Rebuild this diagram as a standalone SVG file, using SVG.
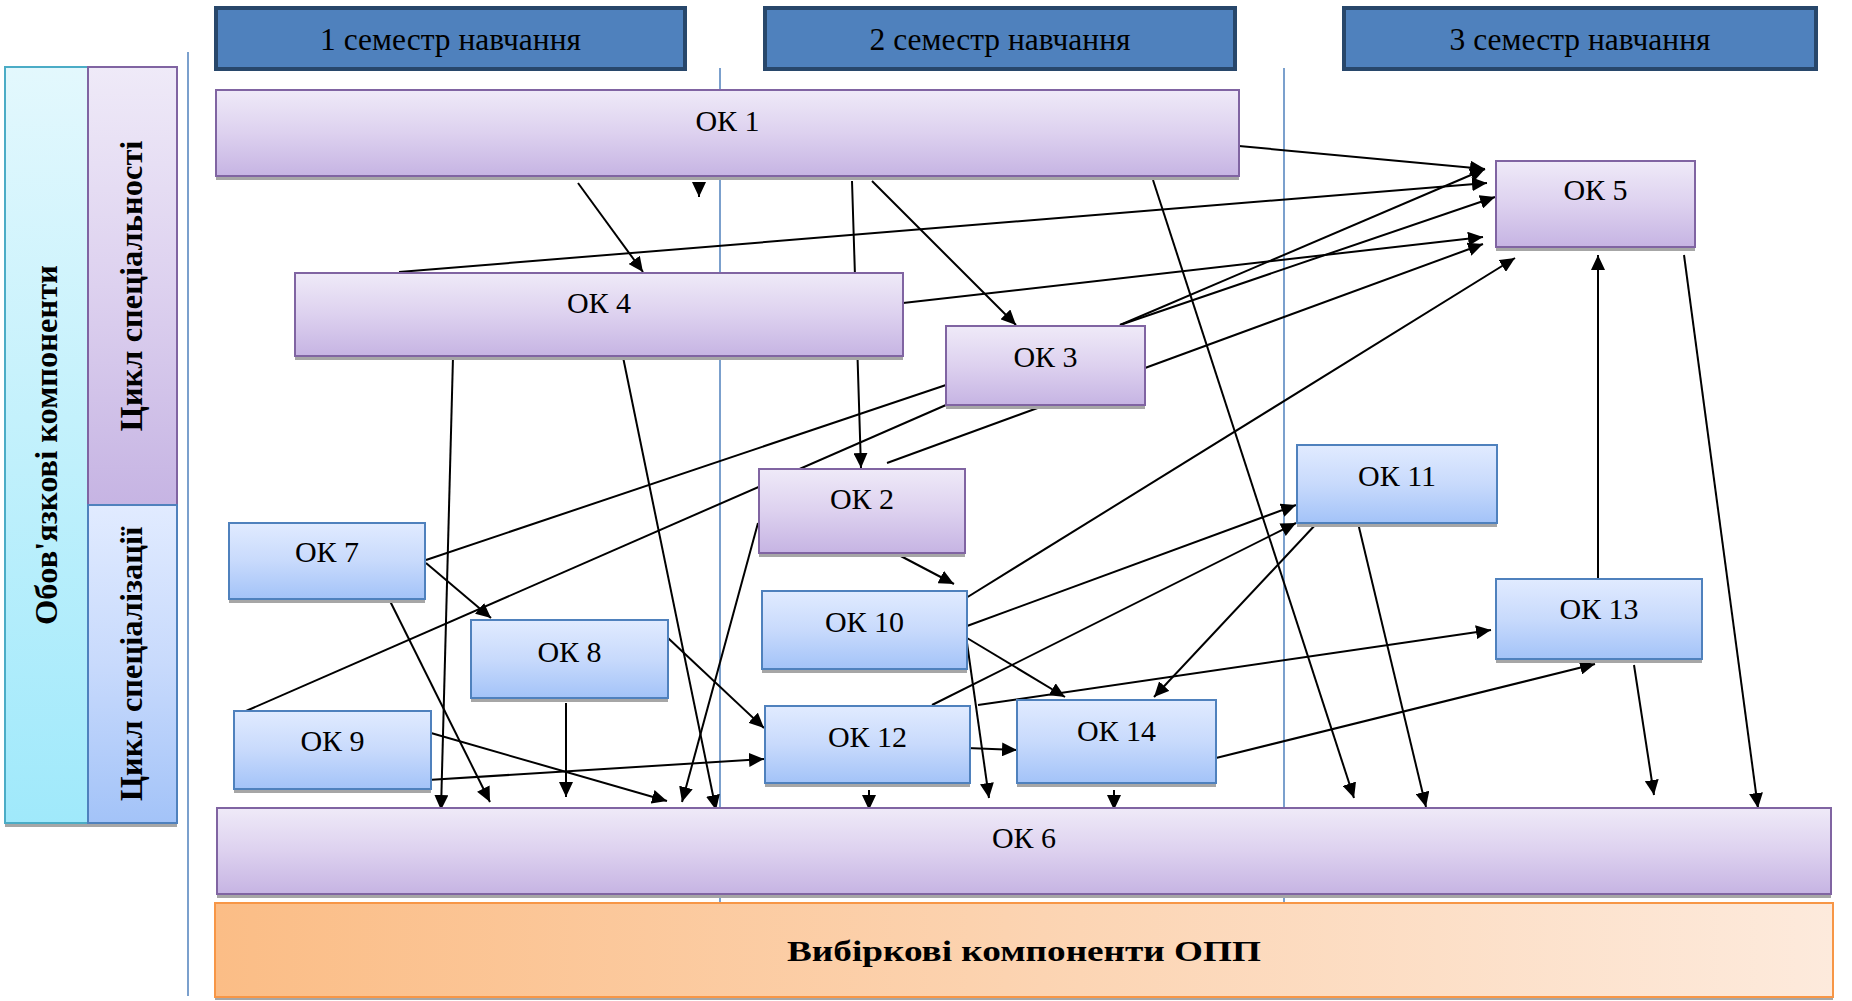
<svg xmlns="http://www.w3.org/2000/svg" width="1852" height="1001" viewBox="0 0 1852 1001">
<defs>
<linearGradient id="gp" x1="0" y1="0" x2="0" y2="1"><stop offset="0" stop-color="#EFEAF8"/><stop offset="0.5" stop-color="#DDD1EF"/><stop offset="1" stop-color="#C6B4E3"/></linearGradient>
<linearGradient id="gb" x1="0" y1="0" x2="0" y2="1"><stop offset="0" stop-color="#E1EBFF"/><stop offset="0.5" stop-color="#C8DAFC"/><stop offset="1" stop-color="#A3C3F8"/></linearGradient>
<linearGradient id="gc" x1="0" y1="0" x2="0" y2="1"><stop offset="0" stop-color="#E3F8FD"/><stop offset="1" stop-color="#A0E9FB"/></linearGradient>
<linearGradient id="go" x1="0" y1="0" x2="1" y2="0"><stop offset="0" stop-color="#FBBD86"/><stop offset="1" stop-color="#FDEADC"/></linearGradient>
<marker id="ah" markerUnits="userSpaceOnUse" markerWidth="16" markerHeight="14" refX="15" refY="7" orient="auto"><path d="M0,0 L15,7 L0,14 z" fill="#000"/></marker>
</defs>
<style>
.sem{fill:#4F81BD;stroke:#28476B;stroke-width:4}
.p{fill:url(#gp);stroke:#8064A2;stroke-width:2}
.b{fill:url(#gb);stroke:#4F81BD;stroke-width:2}
.sh{fill:#A6A6A6}
.t{font-family:"Liberation Serif","Times New Roman",serif;font-size:30px;text-anchor:middle;fill:#000}
.ts{font-size:31.5px}
.tb{font-weight:bold;font-size:32.5px}
.guide line{stroke:#4F81BD;stroke-width:1.5}
.conn line{stroke:#000;stroke-width:2}
.conn .a{marker-end:url(#ah)}
</style>
<rect width="1852" height="1001" fill="#fff"/>
<g class="guide">
<line x1="188" y1="52" x2="188" y2="996"/>
<line x1="720" y1="68" x2="720" y2="903"/>
<line x1="1284" y1="68" x2="1284" y2="903"/>
</g>
<g id="semesters">
<g id="sem1"><rect class="sem" x="216" y="8" width="469" height="61"/><text class="t ts" x="450.5" y="50">1 семестр навчання</text></g>
<g id="sem2"><rect class="sem" x="765" y="8" width="470" height="61"/><text class="t ts" x="1000" y="50">2 семестр навчання</text></g>
<g id="sem3"><rect class="sem" x="1344" y="8" width="472" height="61"/><text class="t ts" x="1580" y="50">3 семестр навчання</text></g>
</g>
<g id="left-labels">
<g id="mandatory"><rect class="sh" x="5" y="71" width="83" height="756"/><rect x="5" y="67" width="83" height="756" fill="url(#gc)" stroke="#4BACC6" stroke-width="2"/><text class="t tb" transform="translate(57,445) rotate(-90)">Обов'язкові компоненти</text></g>
<g id="cycle-spec"><rect x="88" y="67" width="89" height="438" fill="url(#gp)" stroke="#8064A2" stroke-width="2"/><text class="t tb" transform="translate(142,286) rotate(-90)">Цикл спеціальності</text></g>
<g id="cycle-specialization"><rect class="sh" x="88" y="509" width="89" height="318"/><rect x="88" y="505" width="89" height="318" fill="url(#gb)" stroke="#4F81BD" stroke-width="2"/><text class="t tb" transform="translate(142,664) rotate(-90)">Цикл спеціалізації</text></g>
</g>
<g class="conn">
<line class="a" x1="1239" y1="146" x2="1485" y2="169"/>
<line class="a" x1="399" y1="272" x2="1487" y2="183"/>
<line class="a" x1="1120" y1="325" x2="1485" y2="169"/>
<line class="a" x1="1120" y1="325" x2="1495" y2="197"/>
<line class="a" x1="903" y1="303" x2="1483" y2="237"/>
<line class="a" x1="1145" y1="368" x2="1483" y2="244"/>
<line class="a" x1="966" y1="598" x2="1515" y2="258"/>
<line class="a" x1="1598" y1="581" x2="1598" y2="255"/>
<line class="a" x1="1684" y1="255" x2="1758" y2="808"/>
<line class="a" x1="852" y1="181" x2="861" y2="468"/>
<line class="a" x1="872" y1="181" x2="1016" y2="325"/>
<line class="a" x1="578" y1="183" x2="643" y2="272"/>
<line class="a" x1="1153" y1="180" x2="1354" y2="798"/>
<line class="a" x1="699" y1="184" x2="699" y2="197"/>
<line x1="946" y1="385" x2="426" y2="560"/>
<line x1="246" y1="711" x2="946" y2="405"/>
<line x1="1043" y1="406" x2="887" y2="463"/>
<line class="a" x1="426" y1="563" x2="491" y2="618"/>
<line class="a" x1="389" y1="599" x2="490" y2="802"/>
<line class="a" x1="453" y1="357" x2="441" y2="810"/>
<line class="a" x1="623" y1="357" x2="716" y2="810"/>
<line class="a" x1="566" y1="703" x2="566" y2="797"/>
<line class="a" x1="431" y1="733" x2="667" y2="801"/>
<line class="a" x1="758" y1="523" x2="682" y2="802"/>
<line class="a" x1="869" y1="790" x2="869" y2="810"/>
<line class="a" x1="967" y1="643" x2="989" y2="798"/>
<line class="a" x1="1114" y1="790" x2="1114" y2="810"/>
<line class="a" x1="1358" y1="523" x2="1426" y2="807"/>
<line class="a" x1="1634" y1="665" x2="1654" y2="795"/>
<line class="a" x1="428" y1="780" x2="764" y2="759"/>
<line class="a" x1="668" y1="638" x2="764" y2="728"/>
<line class="a" x1="895" y1="553" x2="954" y2="584"/>
<line class="a" x1="967" y1="626" x2="1296" y2="505"/>
<line class="a" x1="932" y1="705" x2="1296" y2="523"/>
<line class="a" x1="1317" y1="523" x2="1154" y2="697"/>
<line class="a" x1="967" y1="638" x2="1065" y2="697"/>
<line class="a" x1="978" y1="705" x2="1491" y2="630"/>
<line class="a" x1="1216" y1="758" x2="1595" y2="664"/>
<line class="a" x1="967" y1="748" x2="1017" y2="750"/>
</g>
<g id="nodes">
<g id="ok1"><rect class="sh" x="216" y="94" width="1023" height="86"/><rect class="p" x="216" y="90" width="1023" height="86"/><text class="t" x="727.5" y="131">ОК 1</text></g>
<g id="ok4"><rect class="sh" x="295" y="277" width="608" height="83"/><rect class="p" x="295" y="273" width="608" height="83"/><text class="t" x="599" y="313">ОК 4</text></g>
<g id="ok3"><rect class="sh" x="946" y="330" width="199" height="79"/><rect class="p" x="946" y="326" width="199" height="79"/><text class="t" x="1045.5" y="367">ОК 3</text></g>
<g id="ok5"><rect class="sh" x="1496" y="165" width="199" height="86"/><rect class="p" x="1496" y="161" width="199" height="86"/><text class="t" x="1595.5" y="200">ОК 5</text></g>
<g id="ok2"><rect class="sh" x="759" y="473" width="206" height="84"/><rect class="p" x="759" y="469" width="206" height="84"/><text class="t" x="862" y="509">ОК 2</text></g>
<g id="ok7"><rect class="sh" x="229" y="527" width="196" height="76"/><rect class="b" x="229" y="523" width="196" height="76"/><text class="t" x="327" y="562">ОК 7</text></g>
<g id="ok8"><rect class="sh" x="471" y="624" width="197" height="78"/><rect class="b" x="471" y="620" width="197" height="78"/><text class="t" x="569.5" y="662">ОК 8</text></g>
<g id="ok9"><rect class="sh" x="234" y="715" width="197" height="78"/><rect class="b" x="234" y="711" width="197" height="78"/><text class="t" x="332.5" y="751">ОК 9</text></g>
<g id="ok10"><rect class="sh" x="762" y="595" width="205" height="78"/><rect class="b" x="762" y="591" width="205" height="78"/><text class="t" x="864.5" y="632">ОК 10</text></g>
<g id="ok11"><rect class="sh" x="1297" y="449" width="200" height="78"/><rect class="b" x="1297" y="445" width="200" height="78"/><text class="t" x="1397" y="486">ОК 11</text></g>
<g id="ok12"><rect class="sh" x="765" y="710" width="205" height="77"/><rect class="b" x="765" y="706" width="205" height="77"/><text class="t" x="867.5" y="747">ОК 12</text></g>
<g id="ok13"><rect class="sh" x="1496" y="583" width="206" height="80"/><rect class="b" x="1496" y="579" width="206" height="80"/><text class="t" x="1599" y="619">ОК 13</text></g>
<g id="ok14"><rect class="sh" x="1017" y="704" width="199" height="83"/><rect class="b" x="1017" y="700" width="199" height="83"/><text class="t" x="1116.5" y="741">ОК 14</text></g>
<g id="ok6"><rect class="sh" x="217" y="812" width="1614" height="86"/><rect class="p" x="217" y="808" width="1614" height="86"/><text class="t" x="1024" y="848">ОК 6</text></g>
<g id="elective"><rect class="sh" x="215" y="905" width="1618" height="95"/><rect x="215" y="903" width="1618" height="94" fill="url(#go)" stroke="#F79646" stroke-width="2"/><text class="t" x="1024" y="961" font-weight="bold" font-size="41" textLength="474" lengthAdjust="spacingAndGlyphs">Вибіркові компоненти ОПП</text></g>
</g>
</svg>
